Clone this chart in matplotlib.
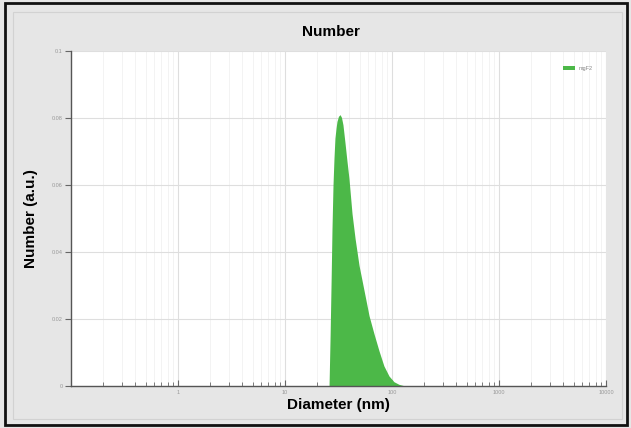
import matplotlib.pyplot as plt
from matplotlib.patches import Rectangle
from matplotlib.ticker import LogLocator, NullFormatter

plt.rcParams["font.family"] = ["Liberation Sans", "DejaVu Sans"]

# size distribution
diameter_nm = [22.0, 25.8, 26.4, 27.0, 27.5, 28.1, 28.7, 29.3, 30.0, 30.6, 31.6,
               32.7, 33.7, 34.8, 36.4, 38.0, 39.6, 42.3, 45.2, 49.2, 54.8, 61.0,
               68.0, 75.6, 84.0, 93.7, 104.0, 116.0, 129.0, 144.0]
number = [0.0, 0.0, 0.015, 0.032, 0.047, 0.060, 0.068, 0.074, 0.077, 0.079, 0.0805,
          0.081, 0.0802, 0.078, 0.0725, 0.067, 0.062, 0.0515, 0.044, 0.036, 0.0285, 0.021,
          0.0155, 0.0105, 0.006, 0.003, 0.0013, 0.0005, 0.0001, 0.0]
series_name = "mgF2"
y_ticks = [0, 0.02, 0.04, 0.06, 0.08, 0.1]
y_tick_labels = ["0", "0.02", "0.04", "0.06", "0.08", "0.1"]
x_ticks = [1, 10, 100, 1000, 10000]
x_tick_labels = ["1", "10", "100", "1000", "10000"]

fig = plt.figure(figsize=(6.31, 4.28), dpi=100, facecolor="#e6e6e6")
fig.patches.append(Rectangle((0.008, 0.006), 0.986, 0.987, transform=fig.transFigure,
                             fill=False, edgecolor="#111111", linewidth=2.0))
fig.patches.append(Rectangle((0.02, 0.02), 0.965, 0.952, transform=fig.transFigure,
                             fill=False, edgecolor="#d2d2d2", linewidth=0.8))

ax = fig.add_axes([71 / 631, 1 - 386 / 428, 535 / 631, 335 / 428])
ax.set_facecolor("white")

ax.fill_between(diameter_nm, number, 0, color="#4cb848", linewidth=0, label=series_name)

ax.set_xscale("log")
ax.set_xlim(0.1, 10000)
ax.set_ylim(0, 0.1)
ax.set_xticks(x_ticks)
ax.set_xticklabels(x_tick_labels)
ax.xaxis.set_minor_locator(LogLocator(base=10, subs=range(2, 10), numticks=20))
ax.xaxis.set_minor_formatter(NullFormatter())
ax.set_yticks(y_ticks)
ax.set_yticklabels(y_tick_labels)

ax.grid(True, which="major", color="#dedede", linewidth=0.8)
ax.grid(True, which="minor", axis="x", color="#f1f1f1", linewidth=0.6)
ax.set_axisbelow(True)

for side in ("top", "right"):
    ax.spines[side].set_visible(False)
for side in ("left", "bottom"):
    ax.spines[side].set_color("#555555")
    ax.spines[side].set_linewidth(1.0)

ax.tick_params(axis="x", which="both", direction="in", colors="#666666",
               labelsize=4, labelcolor="#999999", length=4, pad=3)
ax.tick_params(axis="x", which="minor", length=3)
ax.tick_params(axis="y", direction="out", colors="#666666",
               labelsize=4, labelcolor="#999999", length=4, pad=2)

ax.set_xlabel("Diameter (nm)", fontsize=11, fontweight="bold", labelpad=2)
ax.set_ylabel("Number (a.u.)", fontsize=11, fontweight="bold", labelpad=10)
fig.text(331 / 631, 1 - 32 / 428, "Number", ha="center", va="center",
         fontsize=11, fontweight="bold")

ax.legend(loc="upper right", fontsize=4, frameon=False, handlelength=2,
          handleheight=0.8, bbox_to_anchor=(0.985, 0.97), labelcolor="#888888")

fig.savefig("out.png", dpi=100, facecolor=fig.get_facecolor())
